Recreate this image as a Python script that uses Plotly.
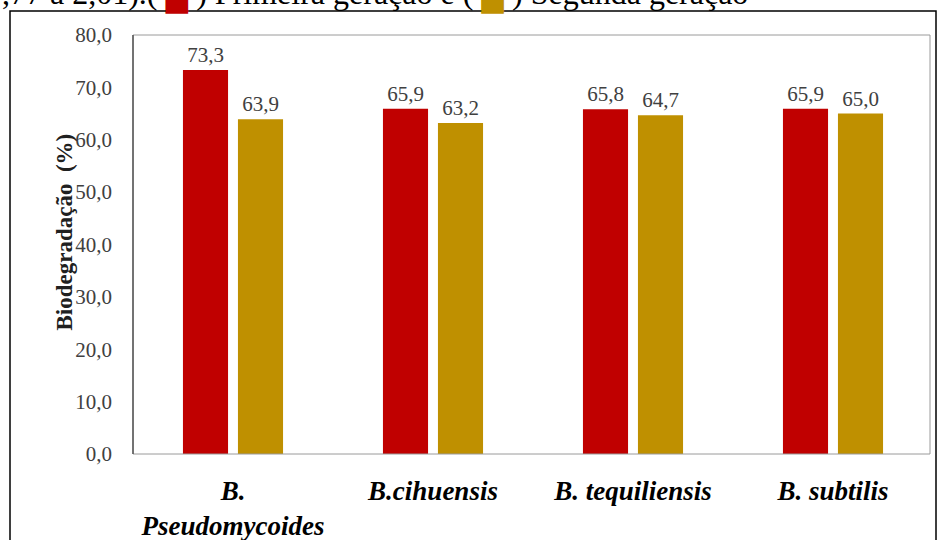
import plotly.graph_objects as go

categories = ["B.<br>Pseudomycoides", "B.cihuensis", "B. tequiliensis", "B. subtilis"]
primeira = [73.3, 65.9, 65.8, 65.9]
segunda = [63.9, 63.2, 64.7, 65.0]
y_ticks = [0, 10, 20, 30, 40, 50, 60, 70, 80]

RED = "#C00000"
GOLD = "#BF9000"
FONT = "Liberation Serif, Times New Roman, serif"

fig = go.Figure()
for vals, col, nm in [(primeira, RED, "Primeira geração"), (segunda, GOLD, "Segunda geração")]:
    fig.add_trace(go.Bar(x=categories, y=vals, name=nm,
                         marker=dict(color=col, line=dict(width=0)),
                         texttemplate="%{y:.1f}", textposition="outside",
                         textfont=dict(family=FONT, size=21, color="#404040"),
                         cliponaxis=False))

L, R, T, B = 133, 5, 35, 86
W, H = 938, 540
pw, ph = W - L - R, H - T - B

def px_x(p):
    return (p - L) / pw

def px_y(p):
    return 1 + (T - p) / ph

fig.update_layout(
    width=W, height=H,
    margin=dict(l=L, r=R, t=T, b=B, autoexpand=False),
    paper_bgcolor="white", plot_bgcolor="white",
    separators=",.",
    showlegend=False,
    barmode="group", bargap=0.45, bargroupgap=0.18,
    font=dict(family=FONT, color="#404040"),
    xaxis=dict(showgrid=False, showline=False, ticks="",
               tickfont=dict(family=FONT, size=27, color="black"),
               ticklabelstandoff=18, automargin=False,
               tickvals=categories,
               ticktext=["<b><i>" + c + "</i></b>" for c in categories]),
    yaxis=dict(range=[0, 80], tickvals=y_ticks, tickformat=".1f",
               showgrid=False, showline=False, ticks="", zeroline=False,
               tickfont=dict(family=FONT, size=21, color="#404040"),
               ticklabelstandoff=20, automargin=False),
)

# plot area border
fig.add_shape(type="rect", xref="paper", yref="paper", x0=0, x1=(930 - L) / pw, y0=0, y1=1,
              line=dict(color="#9a9a9a", width=1))
fig.add_shape(type="line", xref="paper", yref="paper", x0=0, x1=0, y0=0, y1=1,
              line=dict(color="#555555", width=1.5))
# outer frame
fig.add_shape(type="rect", xref="paper", yref="paper",
              x0=px_x(10), x1=px_x(936), y0=px_y(560), y1=px_y(11),
              line=dict(color="black", width=1.5))

# y axis title
fig.add_annotation(text="<b>Biodegradação&nbsp; (%)</b>", xref="paper", yref="paper",
                   x=px_x(49), y=px_y(232), textangle=-90, showarrow=False,
                   font=dict(family=FONT, size=23, color="#202020"))

# cropped caption text at top
fig.add_annotation(
    text=",77 a 2,01).( <span style='color:%s'>█</span> ) Primeira geração e ( <span style='color:%s'>█</span> ) Segunda geração" % (RED, GOLD),
    xref="paper", yref="paper", x=px_x(0), y=px_y(-6), xanchor="left", yanchor="middle",
    showarrow=False, font=dict(family=FONT, size=32, color="black"))

fig.write_html("out.html", config={"displayModeBar": False},
               post_script="document.body.style.margin='0';document.body.style.overflow='hidden';")
